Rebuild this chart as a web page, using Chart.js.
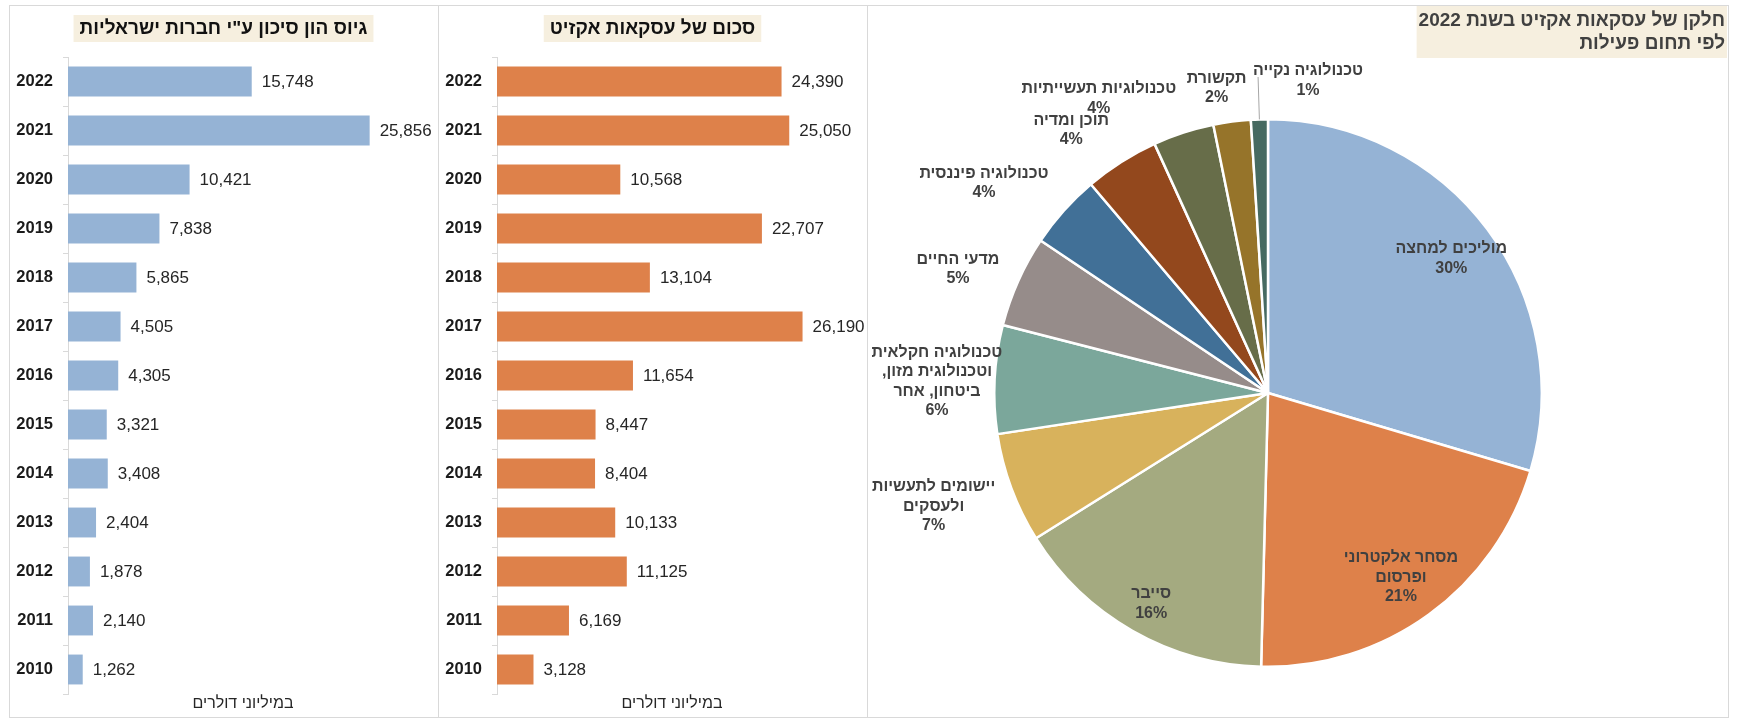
<!DOCTYPE html>
<html lang="he">
<head>
<meta charset="utf-8">
<title>גיוס הון סיכון ואקזיטים</title>
<script src="https://cdn.jsdelivr.net/npm/chart.js@4.4.0/dist/chart.umd.min.js"></script>
<style>
  body { margin: 0; background: #fff; width: 1737px; height: 719px; overflow: hidden; }
  .panel { position: absolute; top: 5px; height: 713px; border: 1px solid #D9D9D9; box-sizing: border-box; }
  canvas { position: absolute; direction: rtl; }
</style>
</head>
<body>
<div class="panel" style="left:9px; width:430px;"></div>
<div class="panel" style="left:438px; width:430px;"></div>
<div class="panel" style="left:867px; width:862px;"></div>
<canvas id="vcChart" width="427" height="710" style="left:10px; top:6px;"></canvas>
<canvas id="exitChart" width="427" height="710" style="left:439px; top:6px;"></canvas>
<canvas id="pieChart" width="859" height="710" style="left:868px; top:6px;"></canvas>
<script>
// data
var years = ['2022', '2021', '2020', '2019', '2018', '2017', '2016', '2015', '2014', '2013', '2012', '2011', '2010'];
var vcRaised = [15748, 25856, 10421, 7838, 5865, 4505, 4305, 3321, 3408, 2404, 1878, 2140, 1262];
var exitAmount = [24390, 25050, 10568, 22707, 13104, 26190, 11654, 8447, 8404, 10133, 11125, 6169, 3128];

var sectors = [
    ['מוליכים למחצה'],
    ['מסחר אלקטרוני', 'ופרסום'],
    ['סייבר'],
    ['יישומים לתעשיות', 'ולעסקים'],
    ['טכנולוגיה חקלאית', 'וטכנולוגית מזון,', 'ביטחון, אחר'],
    ['מדעי החיים'],
    ['טכנולוגיה פיננסית'],
    ['תוכן ומדיה'],
    ['טכנולוגיות תעשייתיות'],
    ['תקשורת'],
    ['טכנולוגיה נקייה']
];
var sectorShare = [29.6, 20.8, 15.7, 6.5, 6.4, 5.4, 4.4, 4.4, 3.6, 2.2, 1.0];

var unitLabel = 'במיליוני דולרים';

var FONT = '"Liberation Sans", Arial, sans-serif';
Chart.defaults.font.family = FONT;

// beige title box on top of each chart
var titleBox = {
    id: 'titleBox',
    beforeDraw: function (chart, args, opts) {
        var ctx = chart.ctx;
        ctx.save();
        ctx.font = opts.font;
        var w = 0;
        opts.lines.forEach(function (l) { w = Math.max(w, ctx.measureText(l).width); });
        w += opts.padX * 2;
        var h = opts.lines.length * opts.lineHeight + opts.padY * 2;
        var x0 = opts.align === 'right' ? chart.width - w : (chart.width - w) / 2;
        ctx.fillStyle = '#F6EFDF';
        ctx.fillRect(x0, opts.top, w, h);
        ctx.fillStyle = opts.color;
        ctx.textBaseline = 'middle';
        ctx.textAlign = opts.align === 'right' ? 'right' : 'center';
        var tx = opts.align === 'right' ? x0 + w - opts.padX : x0 + w / 2;
        opts.lines.forEach(function (l, i) {
            ctx.fillText(l, tx, opts.top + opts.padY + opts.lineHeight * (i + 0.5));
        });
        ctx.restore();
    }
};

// numbers at the end of the bars
var valueLabels = {
    id: 'valueLabels',
    afterDatasetsDraw: function (chart) {
        var ctx = chart.ctx;
        var values = chart.data.datasets[0].data;
        ctx.save();
        ctx.font = '17px ' + FONT;
        ctx.fillStyle = '#262626';
        ctx.textAlign = 'left';
        ctx.textBaseline = 'middle';
        chart.getDatasetMeta(0).data.forEach(function (bar, i) {
            ctx.fillText(values[i].toLocaleString('en-US'), bar.x + 10, bar.y + 1);
        });
        ctx.restore();
    }
};

function barChart(id, values, color, title) {
    return new Chart(document.getElementById(id), {
        type: 'bar',
        data: {
            labels: years,
            datasets: [{
                data: values,
                backgroundColor: color,
                categoryPercentage: 1,
                barPercentage: 0.61
            }]
        },
        plugins: [titleBox, valueLabels],
        options: {
            indexAxis: 'y',
            responsive: false,
            animation: false,
            layout: { padding: { top: 51, right: 19, left: 0, bottom: 0 } },
            plugins: {
                legend: { display: false },
                tooltip: { enabled: false },
                titleBox: {
                    lines: [title], font: 'bold 19px ' + FONT, color: '#111',
                    lineHeight: 23, padX: 6, padY: 2, top: 9, align: 'center'
                }
            },
            scales: {
                x: {
                    min: 0, max: 30000,
                    grid: { display: false },
                    border: { display: false },
                    ticks: { display: false },
                    title: {
                        display: true, text: unitLabel, color: '#262626',
                        font: { size: 16 }, padding: { top: 0, bottom: 3 }
                    },
                    afterFit: function (s) { s.height = 22; }
                },
                y: {
                    grid: { display: true, drawOnChartArea: false, tickLength: 5, color: '#D9D9D9' },
                    border: { display: true, color: '#D9D9D9' },
                    ticks: { color: '#1a1a1a', font: { size: 16.5, weight: 'bold' }, padding: 10 },
                    afterFit: function (s) { s.width = 58; }
                }
            }
        }
    });
}

barChart('vcChart', vcRaised, '#95B3D5', 'גיוס הון סיכון ע"י חברות ישראליות');
barChart('exitChart', exitAmount, '#DE814A', 'סכום של עסקאות אקזיט');

// pie labels, placement around each slice
var labelPlace = [
    { r: 0.83, da: 0.5 }, { r: 0.83, da: 0.2 }, { r: 0.88, da: -0.7 },
    { r: 1.29, da: 1.6 }, { r: 1.21, da: -0.9 }, { r: 1.22, da: -2.3 },
    { r: 1.29, da: -5.3 }, { r: 1.20, da: -4.4 }, { r: 1.24, da: -11.9 },
    { r: 1.13, da: -2 }, { r: 1.15, da: 9.1, leader: true }
];

var pieLabels = {
    id: 'pieLabels',
    afterDatasetsDraw: function (chart) {
        var ctx = chart.ctx;
        var share = chart.data.datasets[0].data;
        ctx.save();
        ctx.font = 'bold 16px ' + FONT;
        ctx.fillStyle = '#404040';
        ctx.textAlign = 'center';
        ctx.textBaseline = 'middle';
        chart.getDatasetMeta(0).data.forEach(function (arc, i) {
            var p = labelPlace[i];
            var mid = (arc.startAngle + arc.endAngle) / 2;
            if (p.leader) {
                ctx.strokeStyle = '#A6A6A6';
                ctx.lineWidth = 1;
                ctx.beginPath();
                ctx.moveTo(arc.x + Math.cos(mid) * arc.outerRadius, arc.y + Math.sin(mid) * arc.outerRadius);
                ctx.lineTo(arc.x + Math.cos(mid) * arc.outerRadius * 1.155, arc.y + Math.sin(mid) * arc.outerRadius * 1.155);
                ctx.stroke();
            }
            var a = mid + p.da * Math.PI / 180;
            var cx = arc.x + Math.cos(a) * arc.outerRadius * p.r;
            var cy = arc.y + Math.sin(a) * arc.outerRadius * p.r;
            var lines = chart.data.labels[i].concat([Math.round(share[i]) + '%']);
            var lh = 19.5;
            var y0 = cy - (lines.length - 1) * lh / 2;
            lines.forEach(function (l, k) { ctx.fillText(l, cx, y0 + k * lh); });
        });
        ctx.restore();
    }
};

new Chart(document.getElementById('pieChart'), {
    type: 'pie',
    data: {
        labels: sectors,
        datasets: [{
            data: sectorShare,
            backgroundColor: ['#95B3D5', '#DE814A', '#A4AA80', '#D8B25C', '#7BA79B', '#968C8A',
                '#417097', '#93481D', '#676D49', '#96742A', '#466A61'],
            borderColor: '#fff',
            borderWidth: 2.5
        }]
    },
    plugins: [titleBox, pieLabels],
    options: {
        responsive: false,
        animation: false,
        layout: { padding: { left: 125, right: 184, top: 112, bottom: 48 } },
        plugins: {
            legend: { display: false },
            tooltip: { enabled: false },
            titleBox: {
                lines: ['חלקן של עסקאות אקזיט בשנת 2022', 'לפי תחום פעילות'],
                font: 'bold 19px ' + FONT, color: '#404040',
                lineHeight: 23, padX: 2, padY: 3, top: 0, align: 'right'
            }
        }
    }
});
</script>
</body>
</html>
